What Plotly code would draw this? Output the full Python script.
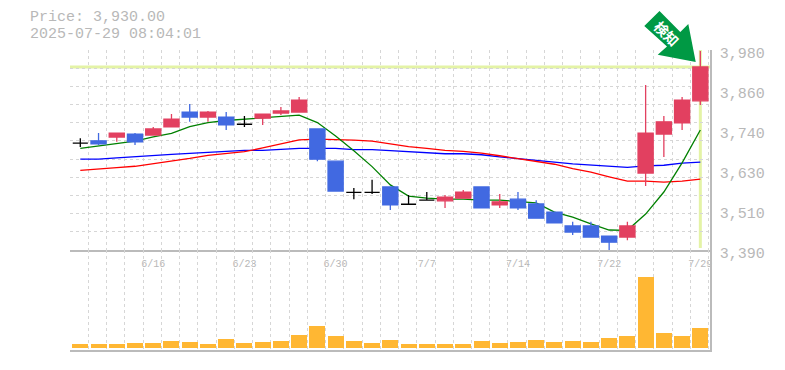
import plotly.graph_objects as go

dates = ["6/10","6/11","6/12","6/13","6/16","6/17","6/18","6/19","6/20","6/23","6/24","6/25","6/26","6/27","6/30",
         "7/1","7/2","7/3","7/4","7/7","7/8","7/9","7/10","7/11","7/14","7/15","7/16","7/17","7/18","7/22","7/23",
         "7/24","7/25","7/28","7/29"]
opens  = [3705,3712,3723,3732,3729,3753,3797,3782,3782,3761,3779,3794,3797,3747,3652,3560,3560,3576,3525,3537,3535,3543,3576,3523,3540,3526,3502,3461,3461,3431,3428,3617,3732,3765,3830]
highs  = [3720,3735,3735,3735,3753,3791,3821,3800,3797,3785,3791,3812,3841,3747,3652,3573,3597,3576,3552,3561,3552,3567,3576,3555,3561,3537,3502,3473,3473,3431,3473,3877,3785,3841,3977]
lows   = [3694,3700,3709,3700,3729,3753,3768,3768,3744,3753,3759,3788,3797,3652,3564,3540,3555,3508,3525,3537,3514,3543,3514,3514,3508,3484,3470,3434,3428,3390,3419,3579,3664,3744,3818]
closes = [3705,3703,3735,3709,3747,3776,3782,3797,3759,3761,3791,3800,3832,3658,3564,3560,3560,3523,3525,3537,3546,3561,3514,3532,3514,3484,3470,3443,3428,3413,3461,3735,3768,3832,3930]
ma_short = [3690,3697,3705,3711,3724,3734,3754,3766,3772,3776,3779,3782,3788,3766,3726,3683,3636,3582,3549,3543,3540,3540,3537,3537,3534,3529,3502,3487,3467,3449,3448,3496,3561,3647,3744]
ma_mid   = [3658,3658,3662,3666,3669,3672,3675,3678,3681,3684,3684,3687,3690,3690,3690,3686,3686,3683,3680,3677,3674,3674,3671,3665,3659,3655,3649,3644,3640,3637,3634,3638,3640,3646,3649]
ma_long  = [3625,3628,3633,3637,3644,3652,3660,3669,3675,3680,3691,3703,3715,3717,3716,3714,3711,3702,3695,3690,3684,3681,3676,3668,3659,3652,3643,3630,3620,3606,3593,3593,3590,3593,3599]
volumes  = [3.7,3.7,3.7,4.7,4.7,6.7,5.7,3.7,8.7,4.7,5.7,6.7,12.7,21.7,11.7,6.7,4.7,7.7,3.7,3.7,3.7,3.7,6.7,4.7,5.7,7.7,5.7,6.7,5.7,9.7,11.7,70.7,14.7,11.7,19.7]
last_price = 3930
y_tickvals = [3980,3862,3744,3626,3508,3390]
y_ticktext = ["3,980","3,860","3,740","3,630","3,510","3,390"]
y_gridvals = [3979.5,3926,3873,3819,3766,3712,3658,3605,3551,3497,3444]
x_tick_idx = [4,9,14,19,24,29,34]
header = ["Price: 3,930.00","2025-07-29 08:04:01"]

idx = list(range(len(dates)))
x_grid = [k-0.55 for k in range(36)]
X_RANGE = [-0.565, 34.53]
GRID = "#d6d6d6"; LINE = "#bbbbbb"; TXT = "#b8b8b8"; UP = "#E24060"; DOWN = "#4169E1"; MONO = "Liberation Mono"
HILITE = "#E4F3A6"

def sub(arr, ids): return [arr[i] for i in ids]
normal = [i for i in idx if opens[i] != closes[i]]
doji = [i for i in idx if opens[i] == closes[i]]

fig = go.Figure()
for vals, col in ((ma_mid,"#0000FF"),(ma_long,"#FF0000"),(ma_short,"#008000")):
    fig.add_trace(go.Scatter(x=idx,y=vals,mode="lines",line=dict(color=col,width=1.3),xaxis="x",yaxis="y",showlegend=False))
fig.add_trace(go.Candlestick(x=sub(idx,normal),open=sub(opens,normal),high=sub(highs,normal),low=sub(lows,normal),close=sub(closes,normal),
    increasing=dict(line=dict(color=UP,width=1.3),fillcolor=UP),decreasing=dict(line=dict(color=DOWN,width=1.3),fillcolor=DOWN),
    whiskerwidth=0,xaxis="x",yaxis="y3",showlegend=False))
fig.add_trace(go.Candlestick(x=sub(idx,doji),open=sub(opens,doji),high=sub(highs,doji),low=sub(lows,doji),close=sub(closes,doji),
    increasing=dict(line=dict(color="#000000",width=1.3),fillcolor="#000000"),decreasing=dict(line=dict(color="#000000",width=1.3),fillcolor="#000000"),
    whiskerwidth=0,xaxis="x",yaxis="y3",showlegend=False))
fig.add_trace(go.Bar(x=idx,y=volumes,width=0.877,marker=dict(color="#FFB733",line=dict(width=0)),xaxis="x2",yaxis="y2",showlegend=False))

def px(x,y): return (x-70)/640, (350-y)/300
arrow = [(659.5,11),(680.3,32),(688.3,24),(695.7,62),(657.7,54.7),(667,46.5),(644.3,26)]
path = "M " + " L ".join("%.4f,%.4f" % px(*p) for p in arrow) + " Z"

minor_x = dict(tickmode="array",tickvals=x_grid,showgrid=True,gridcolor=GRID,griddash="3px,3px",gridwidth=1,ticks="")
fig.update_layout(
    width=777,height=362,margin=dict(l=62,r=75,t=42,b=20,autoexpand=False),paper_bgcolor="white",plot_bgcolor="white",
    boxmode="overlay",boxgap=0.17,boxgroupgap=0,bargap=0,showlegend=False,
    xaxis=dict(domain=[0,1],range=X_RANGE,anchor="y",tickmode="array",tickvals=x_tick_idx,ticktext=sub(dates,x_tick_idx),
        showgrid=False,zeroline=False,showline=True,linecolor=LINE,linewidth=1.5,ticks="outside",ticklen=3,tickcolor="rgba(0,0,0,0)",rangeslider=dict(visible=False),
        tickfont=dict(family=MONO,size=10,color=TXT),minor=minor_x,tickangle=0),
    yaxis=dict(domain=[1/3,1],range=[3390,3980],anchor="x",side="right",tickmode="array",tickvals=y_tickvals,ticktext=y_ticktext,
        showgrid=False,zeroline=False,showline=True,linecolor=LINE,linewidth=1.5,ticks="",ticklabelshift=3,ticklabelstandoff=5,
        tickfont=dict(family=MONO,size=15,color=TXT),
        minor=dict(tickmode="array",tickvals=y_gridvals,showgrid=True,gridcolor=GRID,griddash="3px,3px",gridwidth=1,ticks="")),
    yaxis3=dict(domain=[1/3,1],range=[3390,3980],overlaying="y",anchor="x",side="right",visible=False),
    xaxis2=dict(domain=[0,1],range=X_RANGE,anchor="y2",showticklabels=False,showgrid=False,zeroline=False,showline=True,
        linecolor=LINE,linewidth=1.5,ticks="",minor=minor_x),
    yaxis2=dict(domain=[0,1/3],range=[-2.2,97.8],anchor="x2",side="right",showticklabels=False,showgrid=False,zeroline=False,
        showline=True,linecolor=LINE,linewidth=1.5,ticks=""),
    shapes=[
        dict(type="line",layer="below",xref="x",yref="y",x0=X_RANGE[0],x1=X_RANGE[1],y0=last_price,y1=last_price,line=dict(color=HILITE,width=3)),
        dict(type="line",layer="below",xref="x",yref="y",x0=idx[-1],x1=idx[-1],y0=3980,y1=3396,line=dict(color=HILITE,width=3)),
        dict(type="path",layer="above",xref="paper",yref="paper",path=path,fillcolor="#009944",line=dict(width=0)),
    ],
    annotations=[
        dict(text=header[0],xref="paper",yref="paper",x=px(28,17.5)[0],y=px(28,17.5)[1],xanchor="left",yanchor="middle",showarrow=False,font=dict(family=MONO,size=15,color=TXT)),
        dict(text=header[1],xref="paper",yref="paper",x=px(28,34.5)[0],y=px(28,34.5)[1],xanchor="left",yanchor="middle",showarrow=False,font=dict(family=MONO,size=15,color=TXT)),
        dict(text="<b>検知</b>",xref="paper",yref="paper",x=px(666.5,33)[0],y=px(666.5,33)[1],xanchor="center",yanchor="middle",showarrow=False,textangle=45,
             font=dict(family="Noto Sans CJK JP",size=14,color="white")),
    ],
)
fig.write_html("out.html",config=dict(displayModeBar=False))
